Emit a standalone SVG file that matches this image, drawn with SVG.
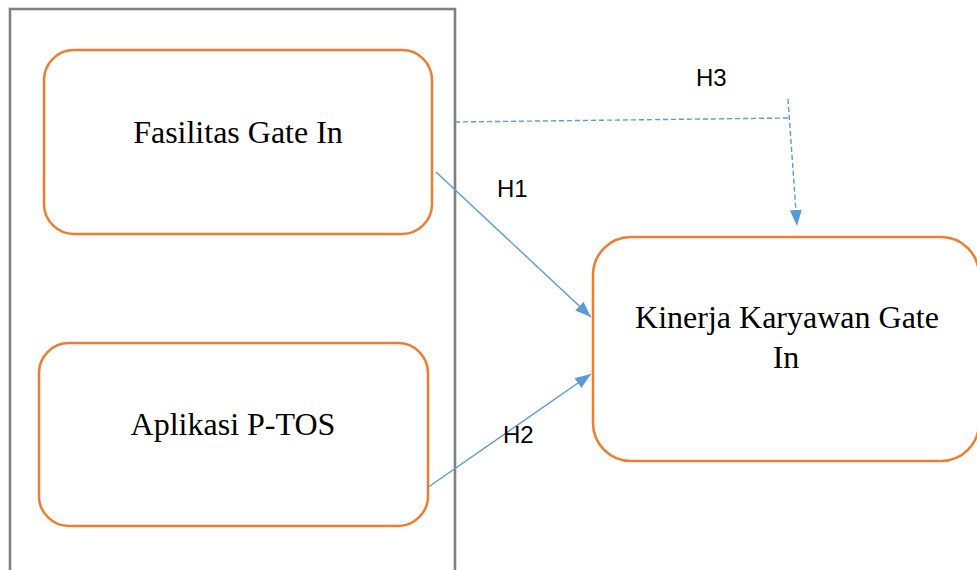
<svg xmlns="http://www.w3.org/2000/svg" width="977" height="570" viewBox="0 0 977 570">
<style>
.node{fill:#fff;stroke:#ED7D31;stroke-width:2.5}
.t{font-family:"Liberation Serif","Times New Roman",serif;font-size:32px;fill:#000;text-anchor:middle}
.h{font-family:"Liberation Sans",Arial,sans-serif;font-size:24px;fill:#000}
.c{fill:none;stroke:#5B9BD5;stroke-width:1.4}
.d{stroke-dasharray:5 3}
</style>
<defs>
<marker id="ah" viewBox="0 0 16 12" refX="16" refY="6" markerWidth="16" markerHeight="12" markerUnits="userSpaceOnUse" orient="auto">
<path d="M0,0 L16,6 L0,12 Z" fill="#5B9BD5"/>
</marker>
</defs>
<rect width="977" height="570" fill="#fff"/>
<rect id="frame" x="10" y="9" width="445" height="580" fill="none" stroke="#808080" stroke-width="2.6"/>
<g id="n1"><rect class="node" x="44" y="50" width="388" height="184" rx="30"/><text class="t" x="238" y="143">Fasilitas Gate In</text></g>
<g id="n2"><rect class="node" x="39" y="343" width="389" height="183" rx="30"/><text class="t" x="233" y="435">Aplikasi P-TOS</text></g>
<g id="n3"><rect class="node" x="593" y="237" width="386" height="224" rx="38"/><text class="t" x="787" y="328">Kinerja Karyawan Gate</text><text class="t" x="786" y="368">In</text></g>
<g id="connectors">
<line class="c" x1="436" y1="172" x2="591" y2="317" marker-end="url(#ah)"/>
<line class="c" x1="427" y1="488" x2="591" y2="374" marker-end="url(#ah)"/>
<polyline class="c d" points="455,122 788,118"/>
<line class="c d" x1="788" y1="99" x2="797" y2="226" marker-end="url(#ah)"/>
</g>
<g id="labels">
<text class="h" x="696" y="86">H3</text>
<text class="h" x="497" y="197">H1</text>
<text class="h" x="503" y="443">H2</text>
</g>
</svg>
